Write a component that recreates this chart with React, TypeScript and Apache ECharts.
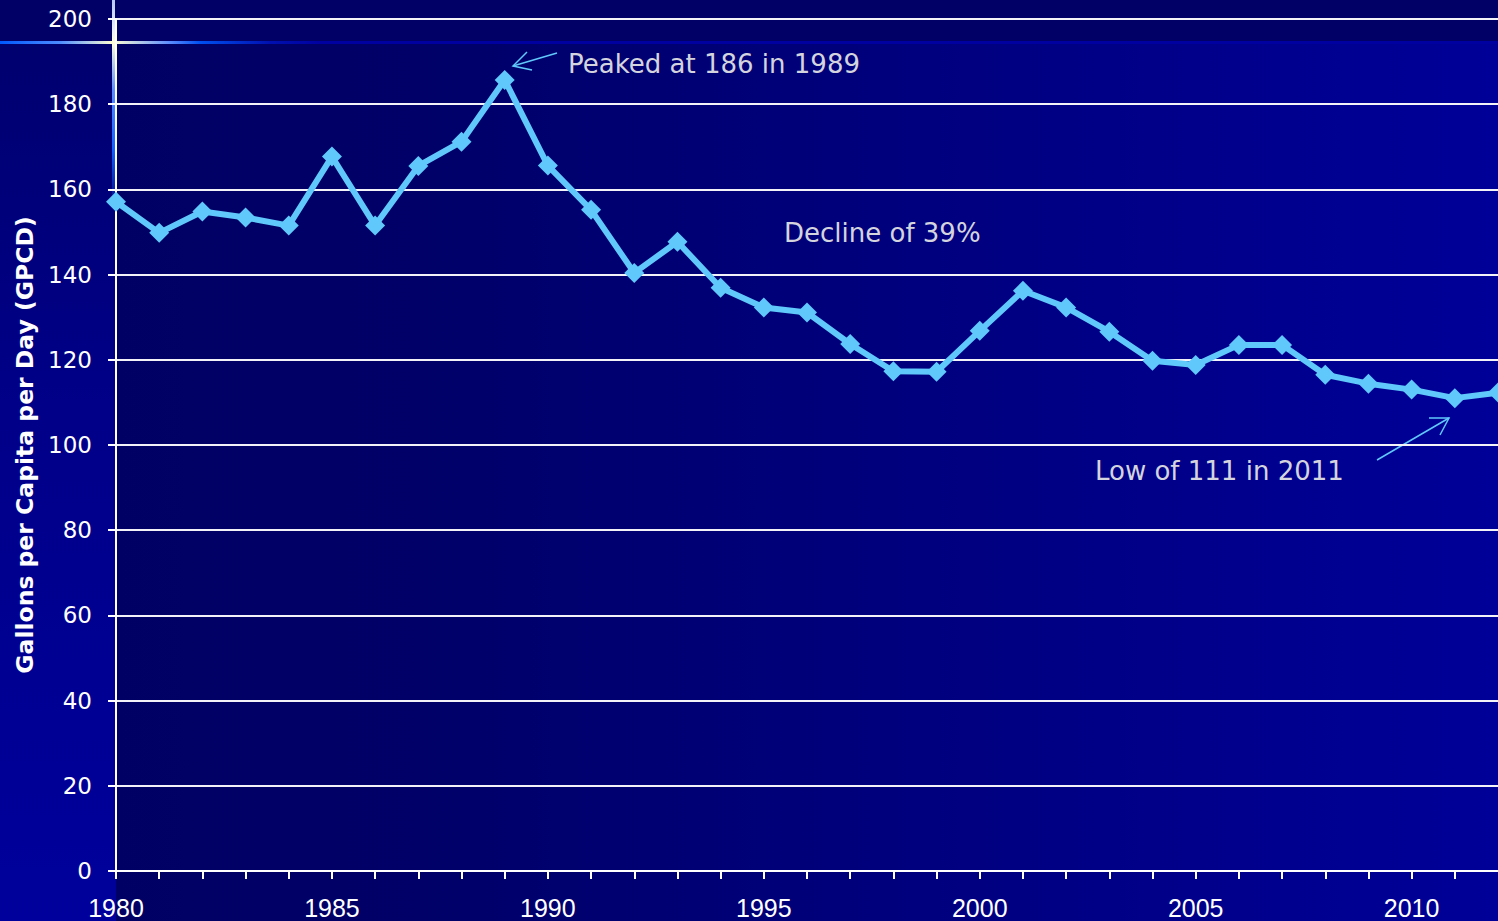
import React, { useEffect, useRef } from "react";
import * as echarts from "echarts";

const years = [
  1980, 1981, 1982, 1983, 1984, 1985, 1986, 1987, 1988, 1989, 1990, 1991, 1992,
  1993, 1994, 1995, 1996, 1997, 1998, 1999, 2000, 2001, 2002, 2003, 2004, 2005,
  2006, 2007, 2008, 2009, 2010, 2011, 2012,
];
const gpcd = [
  157.1, 149.8, 154.8, 153.4, 151.5, 167.7, 151.5, 165.5, 171.2, 185.7, 165.6,
  155.2, 140.4, 147.7, 136.9, 132.3, 131.1, 123.7, 117.3, 117.2, 126.8, 136.2,
  132.3, 126.6, 119.8, 118.8, 123.5, 123.5, 116.5, 114.4, 113.0, 111.0, 112.3,
];
const yTitle = "Gallons per Capita per Day (GPCD)";
const notes = {
  peak: "Peaked at 186 in 1989",
  decline: "Decline of 39%",
  low: "Low of 111 in 2011",
};

const LINE = "#60c8fa";
const NOTE = "#d4d4de";

export default function App() {
  const ref = useRef<HTMLDivElement>(null);
  useEffect(() => {
    if (!ref.current) return;
    const chart = echarts.init(ref.current, null, { renderer: "svg" });
    chart.setOption({
      animation: false,
      backgroundColor: "transparent",
      grid: { left: 116, right: 0, top: 19, bottom: 50, containLabel: false },
      xAxis: {
        type: "value",
        min: 1980,
        max: 2012,
        interval: 1,
        axisLine: { show: true, lineStyle: { color: "#ffffff", width: 2 } },
        axisTick: { show: true, length: 8, lineStyle: { color: "#ffffff", width: 2 } },
        splitLine: { show: false },
        axisLabel: {
          color: "#ffffff",
          fontFamily: "Liberation Sans Narrow, Liberation Sans, sans-serif",
          fontSize: 25,
          margin: 24,
          showMaxLabel: false,
          formatter: (v: number) => (v % 5 === 0 ? String(v) : ""),
        },
      },
      yAxis: {
        type: "value",
        min: 0,
        max: 200,
        interval: 20,
        axisLine: { show: true, lineStyle: { color: "#ffffff", width: 2 } },
        axisTick: { show: true, length: 8, lineStyle: { color: "#ffffff", width: 2 } },
        splitLine: { show: true, lineStyle: { color: "#f2f2f8", width: 2 } },
        axisLabel: {
          color: "#ffffff",
          fontFamily: "DejaVu Sans, sans-serif",
          fontSize: 23,
          margin: 24,
        },
      },
      series: [
        {
          type: "line",
          data: years.map((y, i) => [y, gpcd[i]]),
          lineStyle: { color: LINE, width: 6 },
          itemStyle: { color: LINE },
          symbol: "diamond",
          symbolSize: 20,
          z: 5,
        },
      ],
      graphic: [
        {
          type: "text",
          x: 25,
          y: 445,
          rotation: Math.PI / 2,
          style: {
            text: yTitle,
            fill: "#ffffff",
            font: "bold 23.5px 'DejaVu Sans', sans-serif",
            align: "center",
            verticalAlign: "middle",
          },
        },
        {
          type: "text",
          x: 568,
          y: 64,
          style: {
            text: notes.peak,
            fill: NOTE,
            font: "26px 'DejaVu Sans', sans-serif",
            verticalAlign: "middle",
          },
        },
        {
          type: "text",
          x: 784,
          y: 233,
          style: {
            text: notes.decline,
            fill: NOTE,
            font: "26px 'DejaVu Sans', sans-serif",
            verticalAlign: "middle",
          },
        },
        {
          type: "text",
          x: 1095,
          y: 471,
          style: {
            text: notes.low,
            fill: NOTE,
            font: "26px 'DejaVu Sans', sans-serif",
            verticalAlign: "middle",
          },
        },
        {
          type: "polyline",
          shape: { points: [[557, 53], [513, 66]] },
          style: { stroke: LINE, lineWidth: 1.5, fill: "none" },
        },
        {
          type: "polyline",
          shape: { points: [[527, 52], [513, 66], [532, 70]] },
          style: { stroke: LINE, lineWidth: 1.5, fill: "none" },
        },
        {
          type: "polyline",
          shape: { points: [[1377, 460], [1449, 418]] },
          style: { stroke: LINE, lineWidth: 1.5, fill: "none" },
        },
        {
          type: "polyline",
          shape: { points: [[1429, 418], [1449, 418], [1440, 435]] },
          style: { stroke: LINE, lineWidth: 1.5, fill: "none" },
        },
      ],
    });
    return () => chart.dispose();
  }, []);

  const bg = [
    "linear-gradient(to bottom, #b8c8ff 0px, #e8eeff 30px, #ffffd8 43px, #5a8cff 90px, #1060ff 150px, rgba(16,96,255,0) 210px) 112px 0 / 3px 210px no-repeat",
    "linear-gradient(to right, #0058ff 0px, #4d8cff 60px, #ffffd4 113px, #5a8cff 170px, #0050f0 200px, #0010b0 270px, #0000a0 320px, #0000a0 100%) 0 41px / 100% 3px no-repeat",
    "linear-gradient(#000066, #000066) 0 0 / 100% 43px no-repeat",
    "linear-gradient(to bottom, #00006c 0px, #000088 400px, #00009c 921px) 0 0 / 116px 100% no-repeat",
    "linear-gradient(to right, #000064 0px, #000068 300px, #00007e 800px, #000098 1382px) 116px 0 / 1382px 100% no-repeat",
  ].join(", ");

  return (
    <div
      style={{
        position: "fixed",
        left: 0,
        top: 0,
        width: 1498,
        height: 921,
        background: bg,
      }}
    >
      <div ref={ref} style={{ width: 1498, height: 921 }} />
    </div>
  );
}
